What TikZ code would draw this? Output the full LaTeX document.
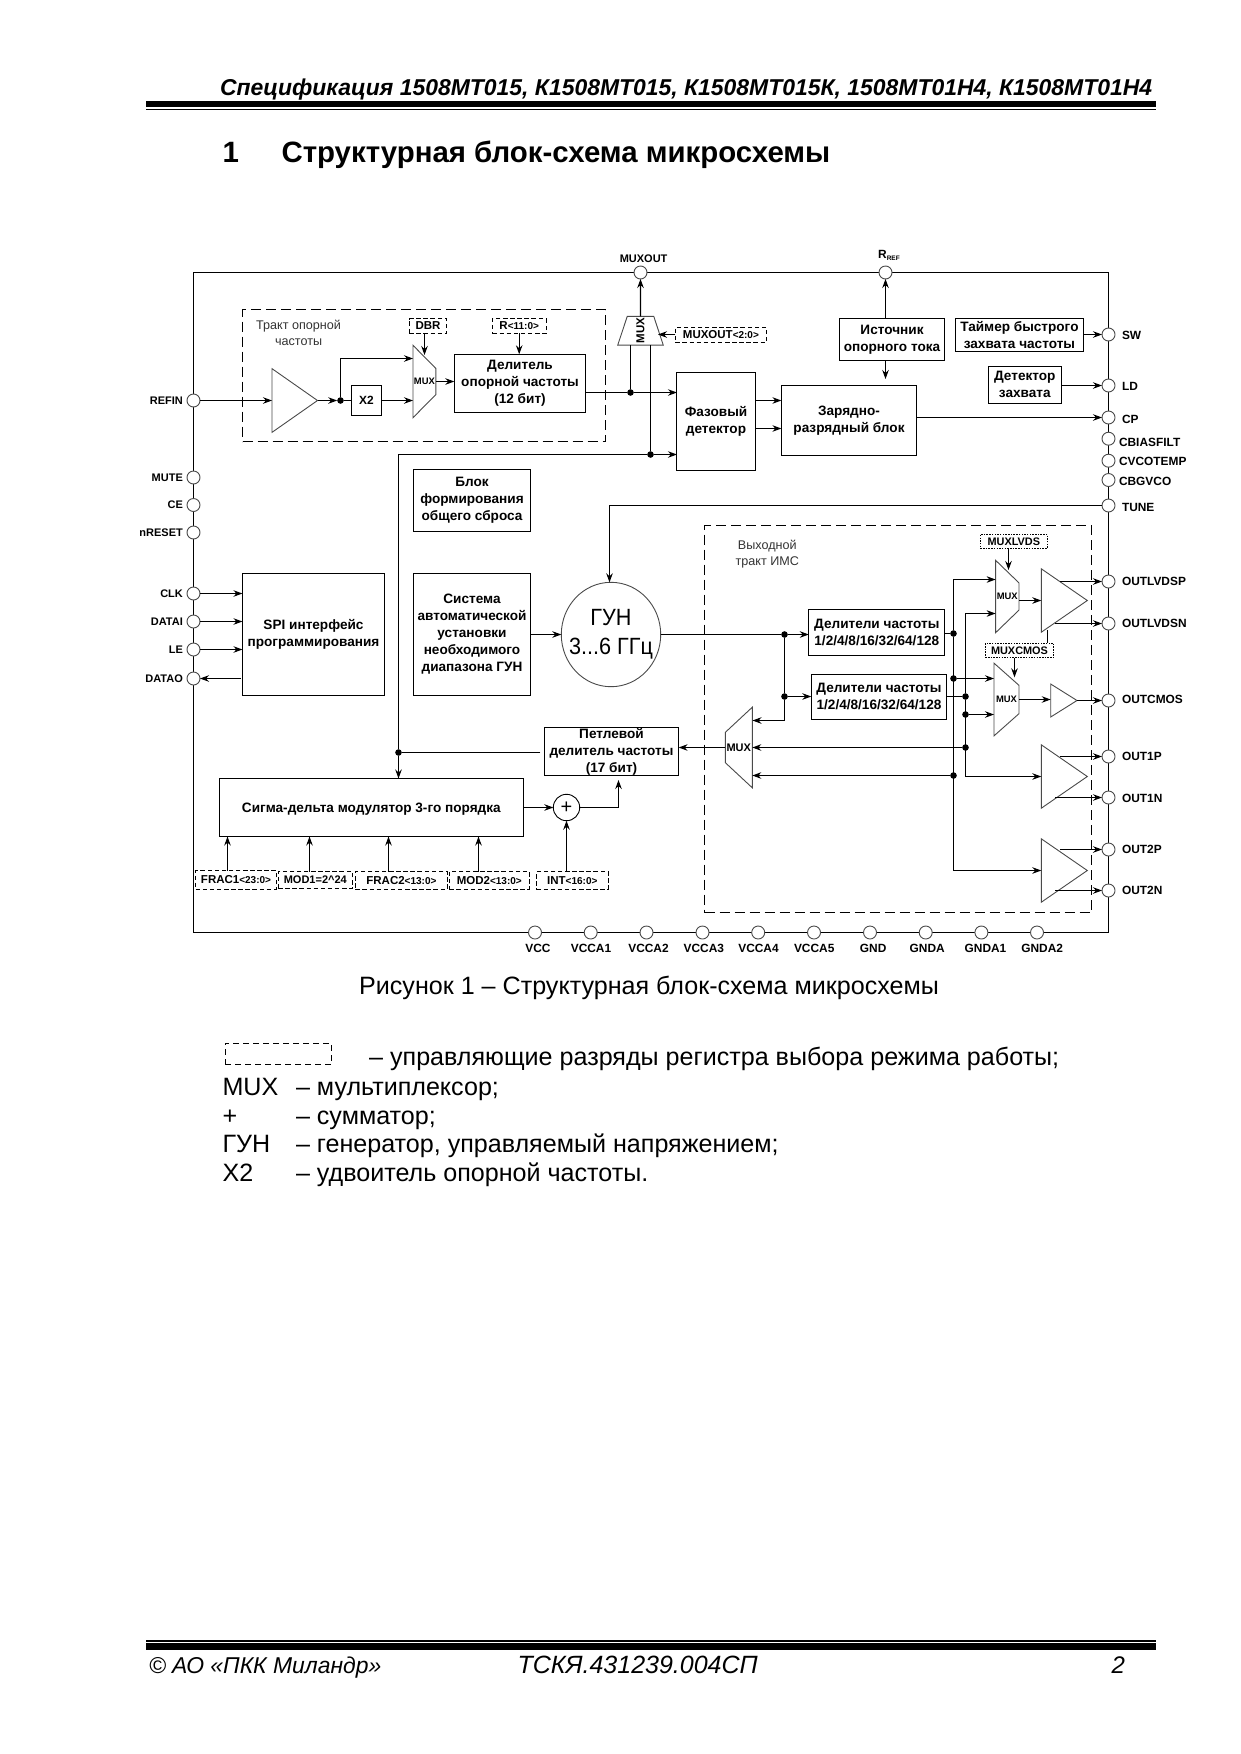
\documentclass[tikz,border=0pt]{standalone}
\usepackage{fontspec}
\setmainfont{Liberation Sans}
\newfontfamily\gunfont[FakeStretch=0.92]{Liberation Sans}
\usepackage{tikz}
\usetikzlibrary{arrows.meta,calc,shapes.geometric}
\definecolor{icgray}{HTML}{4A4A4A}
\definecolor{capgray}{HTML}{333333}
\newcommand{\rng}[1]{{\fontsize{10}{12}\selectfont #1}}
\newcommand{\mk}{\rule{1pt}{0pt}\rule{0pt}{1pt}}
\begin{document}
\begin{tikzpicture}[x=1pt,y=-1pt,line width=1.05pt,
  >={Stealth[length=9pt,width=6.5pt]},
  a/.style={->},
  bx/.style={draw,inner sep=0pt,outer sep=0pt,align=center,font=\fontsize{13.6}{17}\selectfont\bfseries,execute at begin node=\rule{0pt}{12pt}},
  db/.style={draw,dash pattern=on 4.5pt off 2.6pt,line width=0.9pt,inner sep=0pt,outer sep=0pt,font=\fontsize{11.5}{13}\selectfont\bfseries},
  zone/.style={draw,dash pattern=on 10pt off 5pt,line width=0.9pt,inner sep=0pt,outer sep=0pt},
  port/.style={circle,draw=icgray,fill=white,line width=0.9pt,minimum size=13pt,inner sep=0pt,outer sep=0pt},
  dot/.style={circle,fill=black,minimum size=6.6pt,inner sep=0pt,outer sep=0pt},
  lab/.style={font=\fontsize{11.9}{13}\selectfont\bfseries,inner sep=0pt},
  lablft/.style={font=\fontsize{11}{13}\selectfont\bfseries,inner sep=0pt,anchor=east},
  thin text/.style={font=\fontsize{12.6}{16}\selectfont,text=capgray,align=center,inner sep=0pt},
  amp/.style={isosceles triangle,isosceles triangle stretches=true,draw=icgray,fill=white,line width=0.9pt,inner sep=0pt,outer sep=0pt,anchor=lower side},
  mux/.style={trapezium,trapezium stretches=true,draw=icgray,fill=white,line width=0.9pt,inner sep=0pt,outer sep=0pt},
  muxlab/.style={font=\fontsize{9.4}{10}\selectfont\bfseries,inner sep=0pt},
  pg/.style={inner sep=0pt,anchor=base west,font=\fontsize{25.1}{29}\selectfont}]
\useasboundingbox (0,0) rectangle (1240,1754);
% page header and footer
\node[inner sep=0pt,anchor=base east,font=\fontsize{22.93}{26}\selectfont\bfseries\itshape] (head) at (1152.7,95) {Спецификация 1508МТ015, К1508МТ015, К1508МТ015К, 1508МТ01Н4, К1508МТ01Н4};
\fill (146,100.7) rectangle (1156,107.3);
\fill (146,108.6) rectangle (1156,110.2);
\node[pg,font=\fontsize{29.4}{33}\selectfont\bfseries] (secno) at (222,162.5) {1};
\node[pg,font=\fontsize{29.4}{33}\selectfont\bfseries] (sect) at (281,162.5) {Структурная блок-схема микросхемы};
\fill (146,1640) rectangle (1156,1641.8);
\fill (146,1643.3) rectangle (1156,1650);
\node[pg,font=\fontsize{22.9}{28}\selectfont\itshape] (foota) at (148.5,1673) {© АО «ПКК Миландр»};
\node[pg,font=\fontsize{25}{28}\selectfont\itshape] (footb) at (517,1673) {ТСКЯ.431239.004СП};
\node[pg,font=\fontsize{24}{28}\selectfont\itshape] (footc) at (1111,1673) {2};
% chip outline and zones
\node[draw,minimum width=915pt,minimum height=660pt,inner sep=0pt,outer sep=0pt,anchor=north west] (chip) at (193.5,272.5) {};
\node[zone,minimum width=363pt,minimum height=132pt,anchor=north west] (zref) at (242.5,309.5) {};
\node[zone,minimum width=387pt,minimum height=387pt,anchor=north west] (zout) at (704.5,525.5) {};
\node[thin text] (tref) at (298.6,333) {Тракт опорной\\частоты};
\node[thin text] (tout) at (767.3,554.3) {Выходной\\тракт ИМС};
% left pins
\foreach \n/\y/\t in {prefin/400.5/REFIN,pmute/477.5/MUTE,pce/505/CE,preset/532.5/nRESET,pclk/593.5/CLK,pdatai/621.5/DATAI,ple/649.5/LE,pdatao/678.5/DATAO}
  {\node[port] (\n) at (193.5,\y) {};
   \node[lablft] (\n l) at (183.4,\y) {\t};}
% right pins
\foreach \n/\y/\ly/\x/\t in {psw/334.5/335.5/1121.5/SW,pld/385.5/386/1121.5/LD,pcp/417.5/419.5/1121.5/CP,pcbf/438.7/442.7/1118.5/CBIASFILT,pcvt/460.7/461.7/1118.5/CVCOTEMP,pcbg/480/481/1118.5/CBGVCO,ptune/505.5/507.3/1121.5/TUNE,plvp/581.5/581.7/1121.5/OUTLVDSP,plvn/623.5/623.7/1121.5/OUTLVDSN,pcmos/700.5/699.7/1121.5/OUTCMOS,po1p/756.5/756.3/1121.5/OUT1P,po1n/797.5/798/1121.5/OUT1N,po2p/849.5/849.7/1121.5/OUT2P,po2n/890.5/890.7/1121.5/OUT2N}
  {\node[port] (\n) at (1108.5,\y) {};
   \node[lab,anchor=west] (\n l) at (\x,\ly) {\t};}
% bottom pins
\foreach \n/\x/\lx/\t in {pvcc/535/538/VCC,pvca1/590.7/591/VCCA1,pvca2/646.5/648.5/VCCA2,pvca3/702.5/703.8/VCCA3,pvca4/758.2/758.5/VCCA4,pvca5/814/814.2/VCCA5,pgnd/870/873.2/GND,pgna/925.7/927.2/GNDA,pgna1/981.4/985.5/GNDA1,pgna2/1037/1042.2/GNDA2}
  {\node[port] (\n) at (\x,932.5) {};
   \node[lab] (\n l) at (\lx,948.8) {\t};}
% top pins
\node[port] (pmuxout) at (640.5,272.5) {};
\node[lab,font=\fontsize{11}{13}\selectfont\bfseries] (pmuxoutl) at (643.6,259) {MUXOUT};
\node[port] (prref) at (885.5,272.5) {};
\node[lab] (prrefl) at (889,255.7) {R{\fontsize{6.5}{7}\selectfont\raisebox{-2pt}{REF}}};
% reference path
\node[amp,minimum width=63.7pt,minimum height=45.5pt] (buf) at (272,400.5) {};
\node[draw,minimum width=30pt,minimum height=30pt,inner sep=0pt,outer sep=0pt,lab] (xtwo) at (366.4,400.5) {X2};
\node[mux,shape border rotate=270,trapezium left angle=48.5,trapezium right angle=48.5,minimum width=72.4pt,minimum height=22.8pt,label={[muxlab]center:MUX}] (mxr) at (424.4,381.5) {\mk};
\node[db,minimum width=37.5pt,minimum height=14.6pt] (dbr) at (428,326) {DBR};
\node[db,minimum width=53.5pt,minimum height=14.6pt] (rbits) at (519.2,326) {R\rng{<11:0>}};
\node[bx,minimum width=131.4pt,minimum height=58pt] (rdiv) at (520,383.3) {Делитель\\опорной частоты\\(12 бит)};
\node[mux,trapezium left angle=70.3,trapezium right angle=70.3,minimum width=45.5pt,minimum height=28.7pt,label={[muxlab,font=\fontsize{11.5}{12}\selectfont\bfseries]center:\rotatebox{90}{MUX}}] (mxo) at (640.5,330.7) {\mk};
\node[db,minimum width=91.2pt,minimum height=15pt] (mobits) at (720.9,334.8) {MUXOUT\rng{<2:0>}};
% PLL core
\node[bx,minimum width=78.1pt,minimum height=98pt] (pd) at (716,421.3) {Фазовый\\детектор};
\node[bx,minimum width=135.2pt,minimum height=69.3pt] (cpb) at (849,420.6) {Зарядно-\\разрядный блок};
\node[bx,minimum width=104.5pt,minimum height=42pt] (ist) at (892,339.3) {Источник\\опорного тока};
\node[bx,minimum width=128.5pt,minimum height=32.6pt] (tim) at (1019.4,335) {Таймер быстрого\\захвата частоты};
\node[bx,minimum width=73.1pt,minimum height=37pt] (det) at (1024.8,384.8) {Детектор\\захвата};
\node[bx,minimum width=117.2pt,minimum height=62.4pt] (rst) at (472,500.5) {Блок\\формирования\\общего сброса};
\node[bx,minimum width=117.2pt,minimum height=121.7pt] (sys) at (472,634.5) {Система\\автоматической\\установки\\необходимого\\диапазона ГУН};
\node[bx,minimum width=142.1pt,minimum height=122.7pt] (spi) at (313.5,634.6) {SPI интерфейс\\программирования};
\node[ellipse,draw=icgray,line width=0.9pt,minimum width=99.4pt,minimum height=104.4pt,inner sep=0pt,outer sep=0pt,label={[align=center,inner sep=0pt,font=\gunfont\fontsize{23.5}{28.6}\selectfont]center:ГУН\\3...6 ГГц}] (gun) at (611,634.5) {};
\node[bx,minimum width=134.2pt,minimum height=48.4pt] (ldiv) at (611.5,751.5) {Петлевой\\делитель частоты\\(17 бит)};
\node[bx,minimum width=303.9pt,minimum height=58pt] (sd) at (371.3,807.5) {Сигма-дельта модулятор 3-го порядка};
\node[circle,draw,line width=0.9pt,minimum size=26.4pt,inner sep=0pt,outer sep=0pt,font=\fontsize{20}{20}\selectfont] (sum) at (566.5,807.5) {+};
% register bits under the modulator
\node[db,minimum width=80.7pt,minimum height=18.3pt] (frac1) at (236,879.8) {FRAC1\rng{<23:0>}};
\node[db,font=\fontsize{11}{13}\selectfont\bfseries,minimum width=74.3pt,minimum height=16.6pt] (mod1) at (315.3,880) {MOD1=2\textasciicircum24};
\node[db,minimum width=92.1pt,minimum height=17.3pt] (frac2) at (401.4,880.3) {FRAC2\rng{<13:0>}};
\node[db,minimum width=80pt,minimum height=17.3pt] (mod2) at (489.3,880.3) {MOD2\rng{<13:0>}};
\node[db,minimum width=71.8pt,minimum height=17.3pt] (intb) at (572.3,880.3) {INT\rng{<16:0>}};
% output path
\node[bx,minimum width=136pt,minimum height=46pt] (dv1) at (876.8,632.3) {Делители частоты\\1/2/4/8/16/32/64/128};
\node[bx,minimum width=135.4pt,minimum height=45pt] (dv2) at (879,696.8) {Делители частоты\\1/2/4/8/16/32/64/128};
\node[mux,shape border rotate=90,trapezium left angle=50.3,trapezium right angle=50.3,minimum width=80.6pt,minimum height=27pt,label={[muxlab,font=\fontsize{11}{11}\selectfont\bfseries]center:MUX}] (mxl) at (738.8,747.5) {\mk};
\node[mux,shape border rotate=270,trapezium left angle=50.2,trapezium right angle=50.2,minimum width=72.4pt,minimum height=23.4pt,label={[muxlab]center:MUX}] (mxa) at (1007.3,596.5) {\mk};
\node[mux,shape border rotate=270,trapezium left angle=51.9,trapezium right angle=51.9,minimum width=72.7pt,minimum height=25pt,label={[muxlab]center:MUX}] (mxb) at (1006.5,699.5) {\mk};
\node[db,font=\fontsize{10.9}{13}\selectfont\bfseries,dash pattern=on 1.5pt off 1.2pt,minimum width=67pt,minimum height=14pt] (mlv) at (1013.8,541.3) {MUXLVDS};
\node[db,font=\fontsize{10.9}{13}\selectfont\bfseries,dash pattern=on 1.5pt off 1.2pt,minimum width=68.4pt,minimum height=14.4pt] (mcm) at (1019.5,650.5) {MUXCMOS};
\node[amp,minimum width=63.4pt,minimum height=46pt] (ampa) at (1041.3,600.5) {};
\node[amp,minimum width=33pt,minimum height=26.3pt] (ampb) at (1050.7,700.5) {};
\node[amp,minimum width=63.4pt,minimum height=46pt] (ampc) at (1041.3,776.5) {};
\node[amp,minimum width=63.4pt,minimum height=46pt] (ampd) at (1041.3,870.5) {};
% junctions
\foreach \n/\x/\y in {jref/340.5/400.5,jmxl/630.5/392.5,jfb/650.5/454.5,jloop/398.5/752.5,jgun/784.5/634.5,jdiv/784.5/696.5,ja/953.5/633.5,jb/953.5/678.5,jc/953.5/775.5,jd/965.5/696.5,je/965.5/714.5,jf/965.5/747.5}
  \node[dot] (\n) at (\x,\y) {};
% free ends
\coordinate (mrt) at (413,358.5);
\coordinate (mrd) at (424.5,355);
\coordinate (moa) at (658,334.5);
\coordinate (cpa) at (781.4,400.5);
\coordinate (cpc) at (781.4,428.5);
\coordinate (cpi) at (885.5,379);
\coordinate (tn) at (609.5,505.5);
\coordinate (mlt) at (752.5,720.5);
\coordinate (maa) at (995.6,579.5);
\coordinate (mab) at (995.6,613.5);
\coordinate (ac) at (1041.3,776.5);
\coordinate (ad) at (1041.3,870.5);
\coordinate (mas) at (1008.5,570);
\coordinate (mbs) at (1014.5,677.3);
\coordinate (stub) at (1047.5,630);
\coordinate (lda) at (618.5,780);
% connectors
\draw[a] (prefin) -- (buf.west);
\draw[a] (buf.apex) -- (jref);
\draw[a] (jref) |- (mrt);
\draw (jref) -- (xtwo);
\draw[a] (xtwo) -- (xtwo -| mxr.west);
\draw[a] (dbr.south -| mrd) -- (mrd);
\draw[a] (mxr.east) -- (mxr.east -| rdiv.west);
\draw[a] (rbits.south) -- (rbits.south |- rdiv.north);
\draw (rdiv.east |- jmxl) -- (jmxl);
\draw[a] (jmxl) -- (jmxl -| pd.west);
\draw[a] (mxo.north) -- (pmuxout);
\draw (mxo.south -| jmxl) -- (jmxl);
\draw (mxo.south -| jfb) -- (jfb);
\draw[a] (mobits.west |- moa) -- (moa);
\draw (jfb) -| (jloop);
\draw[a] (jfb) -- (jfb -| pd.west);
\draw[a] (jloop) -- (jloop |- sd.north);
\draw[shorten <=4pt] (ldiv.west |- jloop) -- (jloop);
\draw[a] (cpa -| pd.east) -- (cpa);
\draw[a] (cpc -| pd.east) -- (cpc);
\draw[a] (ist.north -| prref) -- (prref);
\draw[a] (ist.south -| cpi) -- (cpi);
\draw[a] (tim.east |- psw) -- (psw);
\draw[a] (det.east |- pld) -- (pld);
\draw[a] (cpb.east |- pcp) -- (pcp);
\draw[a] (ptune) -- (tn) -- (tn |- gun.north);
\foreach \p in {pclk,pdatai,ple}
  \draw[a] (\p) -- (spi.west |- \p);
\draw[a,shorten <=1.5pt] (spi.west |- pdatao) -- (pdatao);
\draw[a] (sys.east) -- (gun.west);
\draw (gun.east) -- (jgun);
\draw[a] (jgun) -- (jgun -| dv1.west);
\draw (jgun) -- (jdiv);
\draw[a] (jdiv) -- (jdiv -| dv2.west);
\draw[a] (jdiv) |- (mlt);
\draw (dv1.east |- ja) -- (ja);
\draw (dv2.east |- jd) -- (jd);
\draw[a] (ja) |- (maa);
\draw[a] (ja) |- (ad);
\draw[a] (jd) |- (mab);
\draw[a] (jd) |- (ac);
\draw[a] (jb) -- (jb -| mxb.west);
\draw[a] (je) -- (je -| mxb.west);
\draw[a] (jf) -- (jf -| mxl.east);
\draw[a] (jc) -- (jc -| mxl.east);
\draw[a] (mxl.west) -- (mxl.west -| ldiv.east);
\draw[a] (ampa.west -| mxa.east) -- (ampa.west);
\draw[a] (mxb.east) -- (mxb.east -| ampb.west);
\draw[a] (ampb.apex) -- (pcmos);
\draw[a] (mlv.south -| mas) -- (mas);
\draw[a] (mcm.south -| mbs) -- (mbs);
\draw (stub) -- (stub |- mcm.north);
\foreach \p/\x in {plvp/1060,plvn/1055,po1p/1060,po1n/1055,po2p/1060,po2n/1055}
  \draw[a] (\x,0 |- \p) -- (\p);
\draw[a] (sd) -- (sum);
\draw[a] (sum) -| (lda);
\foreach \n/\x in {frac1/227.5,mod1/309.5,frac2/388.5,mod2/478.5}
  \draw[a] (\x,0 |- \n.north) -- (\x,0 |- sd.south);
\draw[a] (sum |- intb.north) -- (sum);
% caption and legend
\node[inner sep=0pt,anchor=base,font=\fontsize{25.1}{29}\selectfont] (capt) at (649,994) {Рисунок 1 – Структурная блок-схема микросхемы};
\node[draw,dash pattern=on 6pt off 4pt,line width=0.9pt,minimum width=106.6pt,minimum height=20.7pt,inner sep=0pt,outer sep=0pt] (lgbox) at (278.3,1053.7) {};
\node[pg] (lgt) at (368.7,1065.5) {– управляющие разряды регистра выбора режима работы;};
\foreach \n/\y/\k/\t in {lga/1095/MUX/мультиплексор;,lgb/1124/+/сумматор;,lgc/1152.5/ГУН/{генератор, управляемый напряжением;},lgd/1181/X2/удвоитель опорной частоты.}
  {\node[pg] (\n k) at (222,\y) {\k};
   \node[pg] (\n t) at (295.5,\y) {– \t};}
\end{tikzpicture}
\end{document}
